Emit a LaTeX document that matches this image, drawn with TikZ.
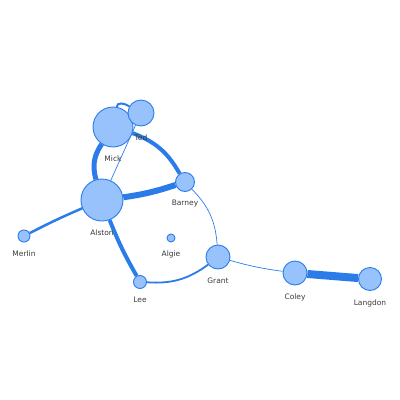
\documentclass[tikz,border=0pt]{standalone}
\usepackage{fontspec}
\setmainfont{DejaVu Sans}
\usetikzlibrary{backgrounds}
\definecolor{visfill}{HTML}{97C2FC}
\definecolor{visline}{HTML}{2B7CE9}
\definecolor{vistext}{HTML}{3A3A3A}

\begin{document}
\begin{tikzpicture}[
x=1pt, y=-1pt,
person/.style={circle, draw=visline, fill=visfill, line width=0.9pt, inner sep=0pt,
  label={[text=vistext, font=\fontsize{7.5}{9}\selectfont, label distance=5pt]below:#1}},
tie/.style={draw=visline, line width=#1}
]
\useasboundingbox (0,0) rectangle (400,400);
%Nodes
\node[person=Mick, minimum size=40pt]    (mick)    at (113,127) {};
\node[person=Ted, minimum size=26pt]     (ted)     at (141,113) {};
\node[person=Barney, minimum size=19pt]  (barney)  at (185,182) {};
\node[person=Alston, minimum size=42pt]  (alston)  at (102,200) {};
\node[person=Merlin, minimum size=12pt]  (merlin)  at (24,236) {};
\node[person=Algie, minimum size=8pt]    (algie)   at (171,238) {};
\node[person=Grant, minimum size=24pt]   (grant)   at (218,257) {};
\node[person=Lee, minimum size=13pt]     (lee)     at (140,282) {};
\node[person=Coley, minimum size=24pt]   (coley)   at (295,273) {};
\node[person=Langdon, minimum size=23pt] (langdon) at (370,279) {};
%Lines
\begin{scope}[on background layer]
\draw (mick) edge[tie=2pt, out=80, in=150, looseness=1.1] (ted);
\draw (mick) edge[tie=5pt, bend right=25] (alston);
\draw (mick) edge[tie=4pt, bend left=20] (barney);
\draw (ted) edge[tie=0.7pt] (alston);
\draw (alston) edge[tie=6pt, bend right=5] (barney);
\draw (alston) edge[tie=2.5pt, bend right=2] (merlin);
\draw (alston) edge[tie=4pt, bend right=4] (lee);
\draw (lee) edge[tie=1.8pt, bend right=20] (grant);
\draw (barney) edge[tie=0.7pt, bend left=20] (grant);
\draw (grant) edge[tie=0.7pt, bend right=4] (coley);
\draw (coley) edge[tie=8pt] (langdon);
\end{scope}
\end{tikzpicture}
\end{document}
